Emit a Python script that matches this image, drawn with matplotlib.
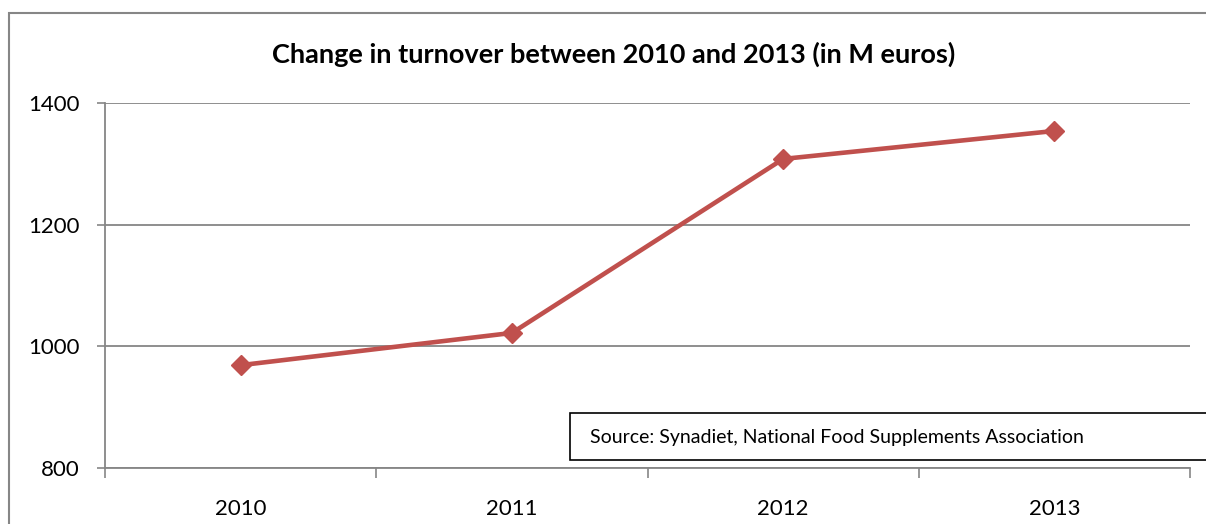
import matplotlib.pyplot as plt
from matplotlib.patches import Rectangle

years = ['2010', '2011', '2012', '2013']
turnover = [969, 1022, 1308, 1354]
y_ticks = [800, 1000, 1200, 1400]

plt.rcParams['font.family'] = ['Lato', 'DejaVu Sans']

fig = plt.figure(figsize=(12.06, 5.24), dpi=100)
ax = fig.add_axes([0.0871, 0.1069, 0.8997, 0.6966])

grey = '#868686'
red = '#C0504D'

# outer chart frame, running off the right and bottom edges
fig.patches.append(Rectangle((9 / 1206, -0.1), 1.1, 1.1 - 13 / 524,
                             transform=fig.transFigure, fill=False,
                             edgecolor=grey, linewidth=1.5, zorder=0))

x = list(range(len(years)))
ax.plot(x, turnover, color=red, linewidth=3.3, marker='D', markersize=10,
        markeredgecolor=red, zorder=3)

ax.set_xlim(-0.5, len(years) - 0.5)
ax.set_ylim(800, 1400)
ax.set_yticks(y_ticks)
ax.set_yticklabels([str(v) for v in y_ticks], fontsize=16)
ax.set_xticks(x)
ax.set_xticklabels(years, fontsize=16)
ax.tick_params(axis='x', which='major', length=0, pad=22)
ax.set_xticks([i - 0.5 for i in range(len(years) + 1)], minor=True)
ax.tick_params(axis='x', which='minor', length=7, width=1.2, color=grey,
               direction='out')
ax.tick_params(axis='y', length=6, width=1.2, color=grey, pad=12)

ax.grid(axis='y', color=grey, linewidth=1.3)
ax.set_axisbelow(True)
for side in ['top', 'right']:
    ax.spines[side].set_visible(False)
for side in ['left', 'bottom']:
    ax.spines[side].set_color(grey)
    ax.spines[side].set_linewidth(1.3)

fig.text(0.509, 0.897, 'Change in turnover between 2010 and 2013 (in M euros)',
         ha='center', va='center', fontsize=19.5, fontweight='bold')

# source note box
fig.patches.append(Rectangle((570 / 1206, 64 / 524), 0.6, 47 / 524,
                             transform=fig.transFigure, facecolor='white',
                             edgecolor='black', linewidth=1.2, zorder=5))
fig.text(590 / 1206, 87 / 524, 'Source: Synadiet, National Food Supplements Association',
         ha='left', va='center', fontsize=14, zorder=6)

fig.savefig('out.png', dpi=100)
